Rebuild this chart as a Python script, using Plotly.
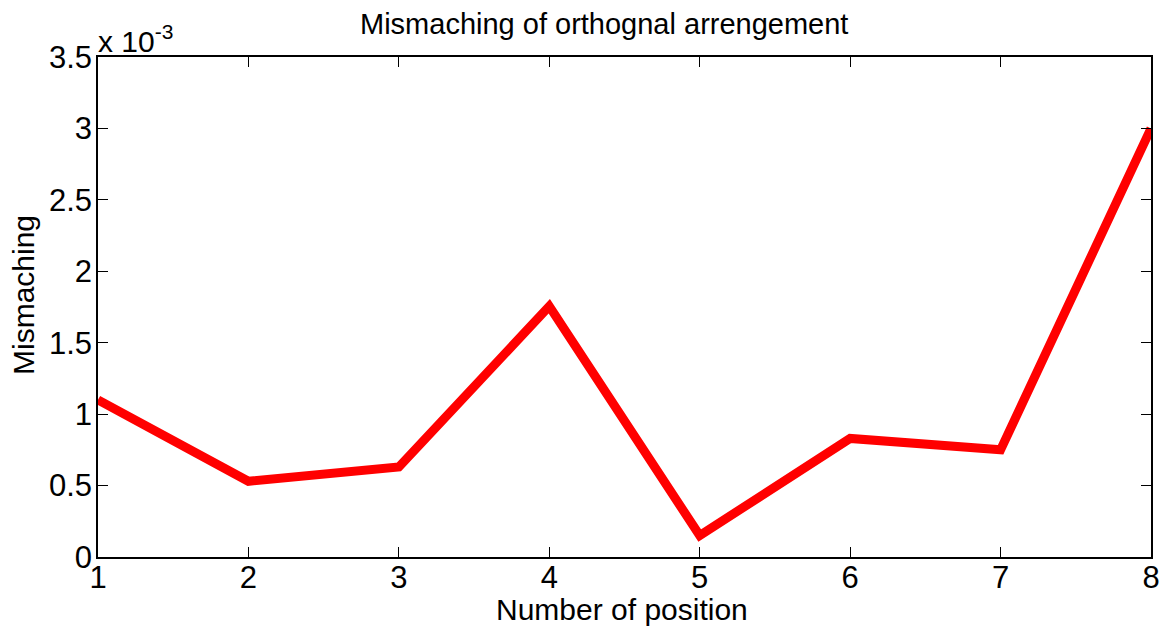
import plotly.graph_objects as go

positions = [1, 2, 3, 4, 5, 6, 7, 8]
mismatch = [1.10e-3, 0.53e-3, 0.63e-3, 1.755e-3, 0.15e-3, 0.83e-3, 0.75e-3, 3.0e-3]
y_ticks = [0, 0.5e-3, 1.0e-3, 1.5e-3, 2.0e-3, 2.5e-3, 3.0e-3, 3.5e-3]
y_tick_text = ["0", "0.5", "1", "1.5", "2", "2.5", "3", "3.5"]

FONT = "Liberation Sans, Arial, sans-serif"
L, R, T, B = 98, 10, 57, 71
W, H = 1161, 628
PW, PH = W - L - R, H - T - B

fig = go.Figure()
fig.add_trace(go.Scatter(x=positions, y=mismatch, mode="lines",
                         line=dict(color="#ff0000", width=9)))

fig.update_layout(
    width=W, height=H,
    margin=dict(l=L, r=R, t=T, b=B, autoexpand=False),
    paper_bgcolor="white", plot_bgcolor="white",
    showlegend=False,
    font=dict(family=FONT, color="black"),
    xaxis=dict(range=[1, 8], tickvals=positions, ticks="inside", ticklen=10,
               tickcolor="black", showline=True, linecolor="black", linewidth=1.5,
               mirror="ticks", showgrid=False, zeroline=False, automargin=False,
               ticklabelstandoff=-8,
               tickfont=dict(size=31, family=FONT)),
    yaxis=dict(range=[0, 3.5e-3], tickvals=y_ticks, ticktext=y_tick_text,
               ticks="inside", ticklen=10, tickcolor="black", showline=True,
               linecolor="black", linewidth=1.5, mirror="ticks", showgrid=False,
               zeroline=False, automargin=False, ticklabelstandoff=-2,
               tickfont=dict(size=31, family=FONT)),
)

def px_x(px):
    return (px - L) / PW

def px_y(py):
    return (H - B - py) / PH

# title
fig.add_annotation(text="Mismaching of orthognal arrengement", xref="paper", yref="paper",
                   x=px_x(604), y=px_y(24), xanchor="center", yanchor="middle",
                   showarrow=False, font=dict(size=29, family=FONT, color="black"))
# x axis title
fig.add_annotation(text="Number of position", xref="paper", yref="paper",
                   x=px_x(622), y=px_y(609), xanchor="center", yanchor="middle",
                   showarrow=False, font=dict(size=30, family=FONT, color="black"))
# y axis title
fig.add_annotation(text="Mismaching", xref="paper", yref="paper",
                   x=px_x(23), y=px_y(295), xanchor="center", yanchor="middle",
                   textangle=-90, showarrow=False,
                   font=dict(size=30, family=FONT, color="black"))
# exponent
fig.add_annotation(text="x 10<sup>-3</sup>", xref="paper", yref="paper",
                   x=px_x(96), y=1, xanchor="left", yanchor="bottom", yshift=-3,
                   showarrow=False, font=dict(size=30, family=FONT, color="black"))

fig.write_html("out.html", config={"displayModeBar": False},
               post_script="document.body.style.margin='0';")
